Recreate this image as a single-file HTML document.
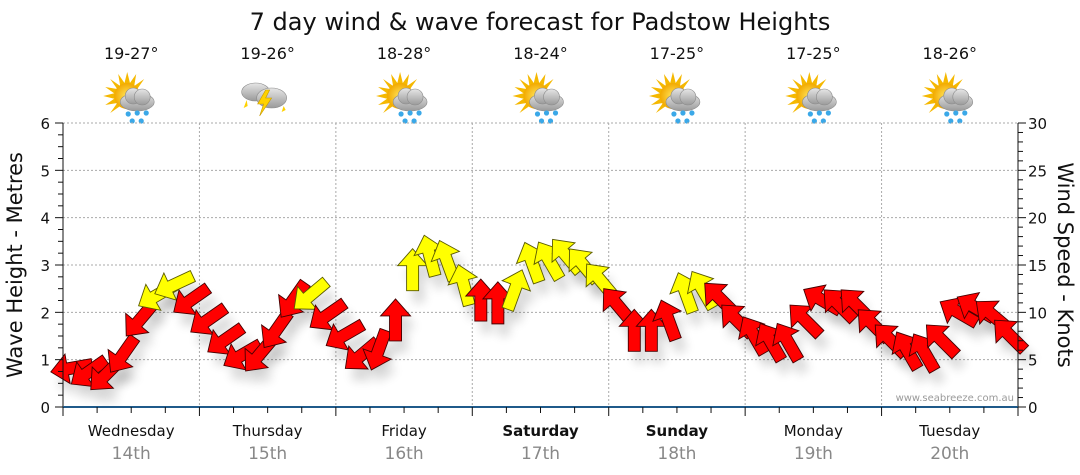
<!DOCTYPE html>
<html><head><meta charset="utf-8">
<style>
body{margin:0;background:#fff;}
svg{display:block;font-family:"DejaVu Sans","Liberation Sans",sans-serif;}
</style></head>
<body>
<svg id="chart" width="1080" height="475" viewBox="0 0 1080 475">
<defs>
<filter id="sh" x="-50%" y="-50%" width="200%" height="200%"><feGaussianBlur stdDeviation="5"/></filter>
<radialGradient id="sun" cx="0.5" cy="0.5" r="0.5"><stop offset="0" stop-color="#ffe45c"/><stop offset="1" stop-color="#f2a900"/></radialGradient>
<linearGradient id="cloud" x1="0" y1="0" x2="0" y2="1"><stop offset="0" stop-color="#e6e6e6"/><stop offset="1" stop-color="#9a9a9a"/></linearGradient>
<g id="ico-sunrain">
<g fill="#f5b800"><polygon points="0,-24 3,-12 -3,-12"/><polygon points="-24,0 -12,-3 -12,3"/><polygon points="-17,-17 -7,-10 -10,-7"/><polygon points="17,-17 10,-7 7,-10"/><polygon points="-17,17 -10,7 -7,10"/><polygon points="-9,-22 -2,-12 -7,-10"/><polygon points="9,-22 7,-10 2,-12"/><polygon points="-22,-9 -10,-7 -12,-2"/><polygon points="-22,9 -12,2 -10,7"/></g>
<circle r="13" fill="url(#sun)"/>
<g fill="url(#cloud)" stroke="#8a8a8a" stroke-width="0.6"><ellipse cx="10" cy="6" rx="17" ry="9"/><circle cx="6" cy="0" r="8"/><circle cx="15" cy="1" r="8"/></g>
<g fill="#3aa8e8"><circle cx="1" cy="18" r="2.6"/><circle cx="10" cy="17" r="2.6"/><circle cx="19" cy="17" r="2.6"/><circle cx="5" cy="25" r="2.6"/><circle cx="14" cy="25" r="2.6"/></g>
</g>
<g id="ico-storm">
<g fill="url(#cloud)" stroke="#8a8a8a" stroke-width="0.6"><ellipse cx="-8" cy="-4" rx="14" ry="9"/><ellipse cx="8" cy="2" rx="15" ry="10"/></g>
<polygon points="2,-6 -6,8 0,8 -4,20 8,2 2,2 6,-6" fill="#ffd200" stroke="#c89a00" stroke-width="0.6"/>
<polygon points="-17,4 -20,12 -16,10" fill="#ffd200"/><polygon points="20,10 18,16 22,14" fill="#ffd200"/>
</g>
</defs>
<text x="540" y="30" text-anchor="middle" font-size="24" fill="#111">7 day wind &amp; wave forecast for Padstow Heights</text>
<g id="topG"></g>
<g id="grid"></g>
<g id="marks"></g>
<g id="axes"></g>
<text x="0" y="0" transform="translate(22,265) rotate(-90)" text-anchor="middle" font-size="21" fill="#111">Wave Height - Metres</text>
<text x="0" y="0" transform="translate(1058,265) rotate(90)" text-anchor="middle" font-size="21" fill="#111">Wind Speed - Knots</text>
<text x="1014" y="401" text-anchor="end" font-size="10" fill="#9a9a9a">www.seabreeze.com.au</text>
</svg>
<script>
const days = ["Wednesday","Thursday","Friday","Saturday","Sunday","Monday","Tuesday"];
const dates = ["14th","15th","16th","17th","18th","19th","20th"];
const boldDays = [false,false,false,true,true,false,false];
const temps = ["19-27°","19-26°","18-28°","18-24°","17-25°","17-25°","18-26°"];
const icons = ["sunrain","storm","sunrain","sunrain","sunrain","sunrain","sunrain"];
const leftTicks = [0,1,2,3,4,5,6];
const rightTicks = [0,5,10,15,20,25,30];
// wind speed (knots), 3-hourly
const speed = [4.1,3.7,3.4,5.5,9.2,11.8,12.9,11.3,
 9.2,7.1,5.5,5.5,8.1,11.3,11.8,9.7,
 7.6,5.5,6.0,9.2,14.5,16.0,15.5,12.9,
 11.3,11.0,12.4,15.3,15.5,16.0,15.0,13.4,
 10.8,8.1,8.1,9.2,12.1,12.4,11.5,9.2,
 7.6,6.9,6.9,9.2,11.3,10.8,10.8,8.7,
 7.1,6.0,5.8,7.1,10.0,10.5,9.7,7.6];
// direction arrow points (degrees, 0 = up, clockwise)
const heading = [260,235,225,215,220,240,245,235,
 235,235,240,220,215,215,230,235,
 240,230,200,0,0,345,340,345,
 0,0,20,340,330,320,320,320,
 320,0,0,340,340,330,315,315,
 330,330,330,315,300,315,315,315,
 315,330,330,315,300,300,310,315];
const strongThreshold = 11.6;

const NS="http://www.w3.org/2000/svg";
const X0=63,X1=1018,Y0=407,Y1=123,DW=(X1-X0)/7;
const yL=v=>Y0-(v/6)*(Y0-Y1);
const yR=v=>Y0-(v/30)*(Y0-Y1);
const xT=i=>X0+(i+0.5)*DW/8;
function mk(tag,attrs,parent){const e=document.createElementNS(NS,tag);for(const k in attrs)e.setAttribute(k,attrs[k]);parent.appendChild(e);return e;}
const topG=document.getElementById('topG'),grid=document.getElementById('grid'),marks=document.getElementById('marks'),axes=document.getElementById('axes');

days.forEach((d,i)=>{
  const cx=X0+(i+0.5)*DW;
  let t=mk('text',{x:cx,y:59,'text-anchor':'middle','font-size':16,fill:'#111'},topG);t.textContent=temps[i];
  
  
  let u=mk('use',{href:'#ico-'+icons[i],x:cx-4,y:96},topG);
  
  
  let dl=mk('text',{x:cx,y:436,'text-anchor':'middle','font-size':15,fill:'#111','font-weight':boldDays[i]?'bold':'normal'},axes);dl.textContent=d;
  
  
  let dt=mk('text',{x:cx,y:459,'text-anchor':'middle','font-size':17,fill:'#888'},axes);dt.textContent=dates[i];
  
  
  if(i>0){let g=mk('line',{x1:X0+i*DW,x2:X0+i*DW,y1:Y1,y2:Y0,stroke:'#aaa','stroke-dasharray':'2,2'},grid);
  
  }
});
leftTicks.forEach(v=>{
  if(v>0){let g=mk('line',{x1:X0,x2:X1,y1:yL(v),y2:yL(v),stroke:'#aaa','stroke-dasharray':'2,2'},grid);
  
  }
  let t=mk('text',{x:50,y:yL(v)+6,'text-anchor':'end','font-size':15,fill:'#111'},axes);t.textContent=v;
  
  
});
for(let k=0;k<=24;k++){const y=yL(k/4);mk('line',{x1:X0-(k%4?5:8),x2:X0,y1:y,y2:y,stroke:'#111'},axes);}
for(let k=0;k<=30;k++){const y=yR(k);mk('line',{x1:X1,x2:X1+(k%5?5:8),y1:y,y2:y,stroke:'#111'},axes);}
rightTicks.forEach(v=>{
  let t=mk('text',{x:1028,y:yR(v)+6,'font-size':15,fill:'#111'},axes);t.textContent=v;
  
  
});
mk('line',{x1:X0,x2:X0,y1:Y1,y2:Y0,stroke:'#111'},axes);
mk('line',{x1:X1,x2:X1,y1:Y1,y2:Y0,stroke:'#111'},axes);
mk('line',{x1:X0,x2:X1,y1:Y0,y2:Y0,stroke:'#1f5a8a','stroke-width':2},axes);
for(let k=0;k<=28;k++){const x=X0+k*DW/4;mk('line',{x1:x,x2:x,y1:Y0,y2:Y0+(k%4?6:9),stroke:'#111'},axes);}

const arrowPts="-21,-6 4,-6 4,-15 21,0 4,15 4,6 -21,6";
const shadows=mk('g',{},marks),arrows=mk('g',{},marks);
speed.forEach((s,i)=>{
  const x=xT(i),y=yR(s),rot=heading[i]-90;
  mk('polygon',{points:arrowPts,transform:`translate(${x+6},${y+12}) rotate(${rot})`,fill:'#000',opacity:0.15,filter:'url(#sh)'},shadows);
  const a=mk('polygon',{points:arrowPts,transform:`translate(${x},${y}) rotate(${rot})`,fill:s>=strongThreshold?'#ffff00':'#ff0000',stroke:s>=strongThreshold?'#5a5a00':'#400','stroke-width':0.9},arrows);
  
  
});
</script>
</body></html>
